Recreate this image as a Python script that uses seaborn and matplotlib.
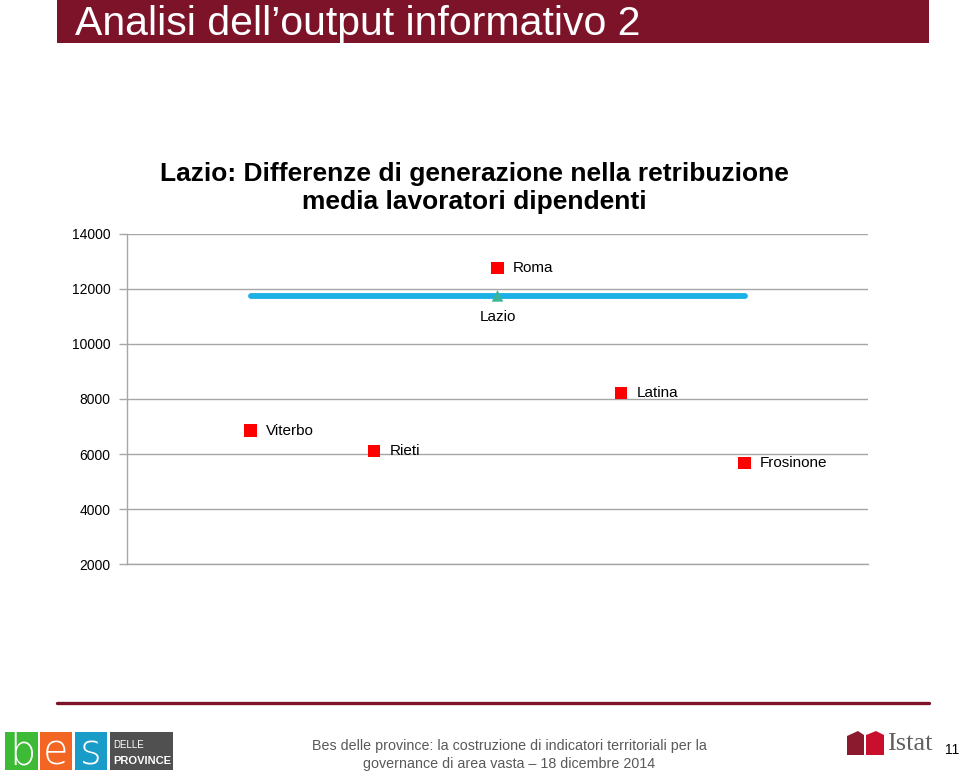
import matplotlib
matplotlib.use("Agg")
import matplotlib.pyplot as plt
from matplotlib.patches import Rectangle, Polygon
import seaborn as sns
import pandas as pd

# ---- data ----
provinces = ["Viterbo", "Rieti", "Roma", "Latina", "Frosinone"]
values = [6840, 6110, 12760, 8220, 5670]
lazio_label = "Lazio"
lazio_value = 11750
yticks = [2000, 4000, 6000, 8000, 10000, 12000, 14000]

title = "Analisi dell\u2019output informativo 2"
chart_title = "Lazio: Differenze di generazione nella retribuzione\nmedia lavoratori dipendenti"
footer = "Bes delle province: la costruzione di indicatori territoriali per la\ngovernance di area vasta \u2013 18 dicembre 2014"
page = "11"

sns.set_theme(style="white")
FONT = ['Liberation Sans', 'DejaVu Sans']
plt.rcParams['font.family'] = FONT
plt.rcParams['text.color'] = 'black'

fig = plt.figure(figsize=(9.6, 7.74), dpi=100)
ax = fig.add_axes([0.1323, 0.2713, 0.7719, 0.4264])

xpos = list(range(1, len(provinces) + 1))
df = pd.DataFrame({"x": xpos, "val": values, "prov": provinces})
line_df = pd.DataFrame({"x": [xpos[0], xpos[-1]], "val": [lazio_value, lazio_value]})

sns.lineplot(data=line_df, x="x", y="val", ax=ax, color="#1BB1E6", linewidth=4.2,
             solid_capstyle="round", zorder=3)
sns.scatterplot(data=df, x="x", y="val", ax=ax, marker="s", color="#FF0000", s=85,
                edgecolor="none", zorder=4)
mid = xpos[len(xpos) // 2]
ax.scatter([mid], [lazio_value], marker="^", s=70, color="#3CB49B", zorder=5, edgecolor="none")

for x, v, p in zip(xpos, values, provinces):
    ax.annotate(p, (x, v), xytext=(11, 0), textcoords="offset points", ha="left",
                va="center", fontsize=11, color="black")
ax.annotate(lazio_label, (mid, lazio_value), xytext=(0, -15), textcoords="offset points",
            ha="center", va="center", fontsize=11, color="black")

ax.set_xlim(0, 6)
ax.set_ylim(2000, 14000)
ax.set_yticks(yticks)
ax.set_yticklabels([str(t) for t in yticks], fontsize=10)
ax.set_xticks([])
ax.set_xlabel("")
ax.set_ylabel("")
ax.grid(axis="y", color="#A6A6A6", linewidth=1.0)
ax.set_axisbelow(True)
for s in ["top", "right"]:
    ax.spines[s].set_visible(False)
for s in ["left", "bottom"]:
    ax.spines[s].set_color("#A6A6A6")
    ax.spines[s].set_linewidth(1.0)
ax.tick_params(axis="y", left=True, length=6, width=1, color="#A6A6A6", pad=6,
               labelcolor="black")

# chart title
fig.text(0.494, 0.7575, chart_title, ha="center", va="center", fontsize=19,
         fontweight="bold", linespacing=1.22, color="black")

# header bar
fig.patches.append(Rectangle((57 / 960, 1 - 43 / 774), (929 - 57) / 960, 43 / 774,
                             transform=fig.transFigure, facecolor="#7D1329",
                             edgecolor="none", zorder=0))
fig.text(75 / 960, 1 - 35 / 774, title, ha="left", va="baseline", fontsize=29.5,
         color="white")

# footer line
fig.add_artist(plt.Line2D([57 / 960, 929 / 960], [1 - 703 / 774, 1 - 703 / 774],
                          transform=fig.transFigure, color="#7D1329", linewidth=2.4))
fig.text(509 / 960, 1 - 755 / 774, footer, ha="center", va="center", fontsize=10.3,
         color="#595959", linespacing=1.45)
fig.text(952 / 960, 1 - 750 / 774, page, ha="center", va="center", fontsize=10,
         color="black")

# bes logo
def box(x0, x1, y0, y1, color):
    fig.patches.append(Rectangle((x0 / 960, 1 - y1 / 774), (x1 - x0) / 960, (y1 - y0) / 774,
                                 transform=fig.transFigure, facecolor=color,
                                 edgecolor="none"))
box(5, 38, 732, 770, "#3DBB37")
box(40, 72, 732, 770, "#F26522")
box(75, 107, 732, 770, "#1A9CC8")
box(110, 173, 732, 770, "#505050")
for cx, letter in [(22, "b"), (56, "e"), (91, "s")]:
    fig.text(cx / 960, 1 - 752 / 774, letter, ha="center", va="center", fontsize=30,
             color="white", family=["DejaVu Sans"], fontweight="light")
fig.text(113 / 960, 1 - 745 / 774, "DELLE", ha="left", va="center", fontsize=7,
         color="white")
fig.text(113 / 960, 1 - 761 / 774, "PROVINCE", ha="left", va="center", fontsize=8,
         color="white", fontweight="bold")

# istat logo
def poly(pts, color):
    fig.patches.append(Polygon([(x / 960, 1 - y / 774) for x, y in pts], closed=True,
                               transform=fig.transFigure, facecolor=color, edgecolor="none"))
poly([(847, 755), (847, 736), (858, 731), (864, 735), (864, 755)], "#8B1A2E")
poly([(866, 755), (866, 735), (876, 731), (884, 735), (884, 755)], "#C8102E")
fig.text(887 / 960, 1 - 744 / 774, "Istat", ha="left", va="center", fontsize=19,
         color="#606060", family=["Liberation Serif", "DejaVu Serif"])

fig.savefig("out.png", dpi=100)
